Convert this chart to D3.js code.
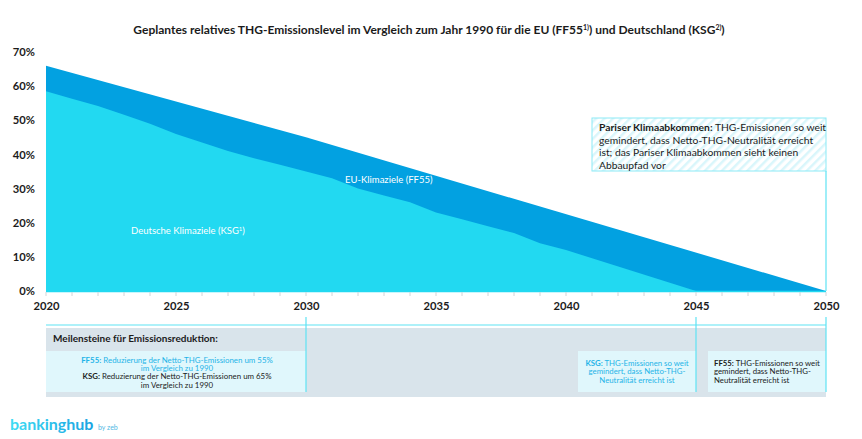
<!DOCTYPE html>
<html><head><meta charset="utf-8">
<script src="https://cdn.jsdelivr.net/npm/d3@7"></script>
<style>
body{margin:0;background:#fff;}
svg{display:block;font-family:Lato,"Noto Sans",sans-serif;}
</style></head>
<body><svg id="c" width="862" height="439"></svg>
<script>
// ---- data ----
const euYears = [2020, 2030, 2050];
const euValues = [66, 45, 0];
const deYears = [2020,2021,2022,2023,2024,2025,2026,2027,2028,2029,2030,2031,2032,2033,2034,2035,2036,2037,2038,2039,2040,2045];
const deValues = [58.5,56.3,54.2,51.6,49,46,43.5,41,38.9,37,35,33,30,28,26,23,21,19,17,14,12,0];
const yTicks = [0,10,20,30,40,50,60,70];
const xTicks = [2020,2025,2030,2035,2040,2045,2050];
const milestoneYears = [2030, 2045, 2050];

const svg = d3.select("#c");
const x = d3.scaleLinear().domain([2020,2050]).range([46,826]);
const y = d3.scaleLinear().domain([0,70]).range([291,52]);

const EU = "#02a1e1", DE = "#22d9f1", LINE = "#5ee3f4", DARK = "#1b1b1b";

// defs: hatch pattern, logo gradient
const defs = svg.append("defs");
const pat = defs.append("pattern").attr("id","hatch").attr("patternUnits","userSpaceOnUse")
  .attr("width",6).attr("height",6).attr("patternTransform","rotate(45)");
pat.append("rect").attr("width",6).attr("height",6).attr("fill","#fff");
pat.append("rect").attr("width",2.5).attr("height",6).attr("fill","#d9f6fb");
const lg = defs.append("linearGradient").attr("id","logo");
lg.append("stop").attr("offset","0%").attr("stop-color","#3fdcf3");
lg.append("stop").attr("offset","100%").attr("stop-color","#1aa3e2");

// title
const title = svg.append("text").attr("x",429).attr("y",34).attr("text-anchor","middle")
  .attr("font-size",12).attr("font-weight",700).attr("fill",DARK);
title.append("tspan").text("Geplantes relatives THG-Emissionslevel im Vergleich zum Jahr 1990 für die EU (FF55");
title.append("tspan").attr("font-size",7).attr("dy",-4).text("1)");
title.append("tspan").attr("dy",4).text(") und Deutschland (KSG");
title.append("tspan").attr("font-size",7).attr("dy",-4).text("2)");
title.append("tspan").attr("dy",4).text(")");

// areas
const euData = euYears.map((yr,i)=>({yr, v:euValues[i]}));
const deData = deYears.map((yr,i)=>({yr, v:deValues[i]}));
const area = d3.area().x(d=>x(d.yr)).y0(y(0)).y1(d=>y(d.v)).curve(d3.curveLinear);
svg.append("path").datum(euData).attr("d",area).attr("fill",EU);
svg.append("path").datum(deData).attr("d",area).attr("fill",DE);

// baseline
svg.append("line").attr("x1",x(2020)).attr("x2",x(2050)).attr("y1",y(0)+0.5).attr("y2",y(0)+0.5)
  .attr("stroke",DE).attr("stroke-width",1.5);

// minor ticks
svg.append("g").selectAll("line").data(d3.range(2020,2051)).join("line")
  .attr("x1",d=>x(d)).attr("x2",d=>x(d)).attr("y1",y(0)+1).attr("y2",y(0)+5)
  .attr("stroke","#d0d4d8").attr("stroke-width",1);

// y axis
const ya = svg.append("g").attr("transform",`translate(${x(2020)},0)`)
  .call(d3.axisLeft(y).tickValues(yTicks).tickSize(0).tickPadding(11).tickFormat(d=>d+"%"));
ya.select(".domain").remove();
ya.selectAll("text").attr("font-size",11.2).attr("font-weight",700).attr("fill",DARK).attr("font-family","Lato,'Noto Sans',sans-serif");

// x axis
const xa = svg.append("g").attr("transform",`translate(0,${y(0)})`)
  .call(d3.axisBottom(x).tickValues(xTicks).tickSize(0).tickPadding(11).tickFormat(d3.format("d")));
xa.select(".domain").remove();
xa.selectAll("text").attr("font-size",11.2).attr("font-weight",700).attr("fill",DARK).attr("font-family","Lato,'Noto Sans',sans-serif");

// series labels
svg.append("text").attr("x",345).attr("y",182.5).attr("font-size",9.5).attr("fill","#fff").text("EU-Klimaziele (FF55)");
const dl = svg.append("text").attr("x",131).attr("y",234).attr("font-size",9.5).attr("fill","#fff");
dl.append("tspan").text("Deutsche Klimaziele (KSG");
dl.append("tspan").attr("font-size",6).attr("dy",-3).text("1");
dl.append("tspan").attr("dy",3).text(")");

// Paris box
svg.append("rect").attr("x",592).attr("y",118).attr("width",x(2050)-592).attr("height",53)
  .attr("fill","url(#hatch)").attr("stroke","#8beaf6").attr("stroke-width",1);
const pLines = [
  [["Pariser Klimaabkommen:",700],[" THG-Emissionen so weit",400]],
  [["gemindert, dass Netto-THG-Neutralität erreicht",400]],
  [["ist; das Pariser Klimaabkommen sieht keinen",400]],
  [["Abbaupfad vor",400]]
];
pLines.forEach((ln,i)=>{
  const t = svg.append("text").attr("x",599).attr("y",131+i*12.6).attr("font-size",10.3).attr("fill",DARK);
  ln.forEach(([s,w])=>t.append("tspan").attr("font-weight",w).text(s));
});
// 2050 vertical line in chart
svg.append("line").attr("x1",x(2050)).attr("x2",x(2050)).attr("y1",171).attr("y2",y(0))
  .attr("stroke",LINE).attr("stroke-width",1.2);

// bottom panel
svg.append("line").attr("x1",x(2020)).attr("x2",x(2050)).attr("y1",325).attr("y2",325)
  .attr("stroke",LINE).attr("stroke-width",1.2);
svg.append("rect").attr("x",x(2020)).attr("y",328).attr("width",x(2050)-x(2020)).attr("height",69).attr("fill","#d9e4eb");
svg.append("text").attr("x",53).attr("y",342).attr("font-size",10).attr("font-weight",700).attr("fill",DARK)
  .text("Meilensteine für Emissionsreduktion:");

const LB = "#e0f7fc";
svg.append("rect").attr("x",x(2020)).attr("y",351).attr("width",x(2030)-x(2020)).attr("height",41).attr("fill",LB);
svg.append("rect").attr("x",578).attr("y",351).attr("width",x(2045)-578).attr("height",41).attr("fill",LB);
svg.append("rect").attr("x",708).attr("y",351).attr("width",x(2050)-708).attr("height",41).attr("fill",LB);

milestoneYears.forEach(yr=>{
  svg.append("line").attr("x1",x(yr)).attr("x2",x(yr)).attr("y1",317).attr("y2",392)
    .attr("stroke",LINE).attr("stroke-width",1.2);
});

const BLUE = "#1fb4e8";
function multi(xp, y0, dy, anchor, lines, size){
  lines.forEach((ln,i)=>{
    const t = svg.append("text").attr("x",xp).attr("y",y0+i*dy).attr("text-anchor",anchor).attr("font-size",size);
    ln.forEach(([s,w,c])=>t.append("tspan").attr("font-weight",w).attr("fill",c).text(s));
  });
}
multi(177, 362.5, 8.4, "middle", [
  [["FF55:",700,BLUE],[" Reduzierung der Netto-THG-Emissionen um 55%",400,BLUE]],
  [["im Vergleich zu 1990",400,BLUE]],
  [["KSG:",700,DARK],[" Reduzierung der Netto-THG-Emissionen um 65%",400,DARK]],
  [["im Vergleich zu 1990",400,DARK]]
], 7.9);
multi(637, 365.5, 8.7, "middle", [
  [["KSG:",700,BLUE],[" THG-Emissionen so weit",400,BLUE]],
  [["gemindert, dass Netto-THG-",400,BLUE]],
  [["Neutralität erreicht ist",400,BLUE]]
], 7.8);
multi(714, 365.5, 8.7, "start", [
  [["FF55:",700,DARK],[" THG-Emissionen so weit",400,DARK]],
  [["gemindert, dass Netto-THG-",400,DARK]],
  [["Neutralität erreicht ist",400,DARK]]
], 7.8);

// logo
const lgT = svg.append("text").attr("x",10).attr("y",430).attr("font-size",16).attr("font-weight",700).attr("fill","url(#logo)");
lgT.append("tspan").text("bankinghub");
svg.append("text").attr("x",98).attr("y",430).attr("font-size",7).attr("fill","#4fb9e4").text("by zeb");
</script></body></html>
